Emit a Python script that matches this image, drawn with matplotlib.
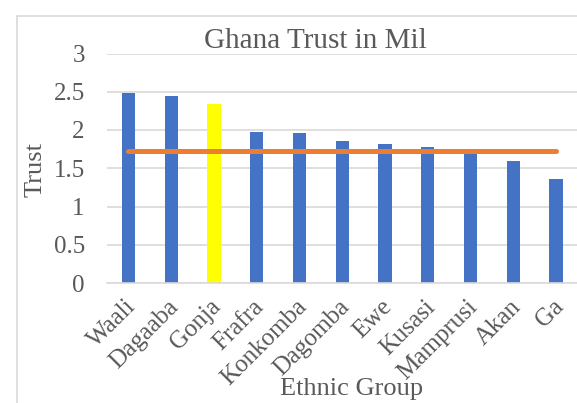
import matplotlib
matplotlib.use("Agg")
import matplotlib.pyplot as plt
from matplotlib.patches import Rectangle
from matplotlib.transforms import ScaledTranslation

groups = ["Waali", "Dagaaba", "Gonja", "Frafra", "Konkomba", "Dagomba",
          "Ewe", "Kusasi", "Mamprusi", "Akan", "Ga"]
trust = [2.48, 2.44, 2.34, 1.97, 1.96, 1.86, 1.82, 1.78, 1.71, 1.60, 1.36]
mean_trust = [1.73] * len(groups)
highlight = "Gonja"

BLUE, YELLOW, ORANGE, GRID, TXT = "#4472C4", "#FFFF00", "#ED7D31", "#D9D9D9", "#595959"
plt.rcParams["font.family"] = ["Liberation Serif", "DejaVu Serif"]

W, H = 577, 403
fig = plt.figure(figsize=(W / 100, H / 100), dpi=100)
ax = fig.add_axes([107 / W, 1 - 283 / H, 470.5 / W, 229.5 / H])

# chart border (right/bottom edges cut off in the original)
fig.patches.append(Rectangle((17 / W, -0.1), 1.2, 1 - 16 / H + 0.1, transform=fig.transFigure,
                             fill=False, ec=GRID, lw=1.2))

x = list(range(len(groups)))
colors = [YELLOW if g == highlight else BLUE for g in groups]
ax.bar(x, trust, width=0.31, color=colors, zorder=2)
ax.plot(x, mean_trust, color=ORANGE, lw=3.6, solid_capstyle="round", zorder=3)

ax.set_xlim(-0.5, len(groups) - 0.5)
ax.set_ylim(0, 3)
ax.set_yticks([0, 0.5, 1, 1.5, 2, 2.5, 3])
ax.set_yticklabels(["0", "0.5", "1", "1.5", "2", "2.5", "3"])
ax.yaxis.grid(True, color=GRID, lw=1.2, zorder=0)
ax.set_axisbelow(True)
for s in ["top", "right", "left"]:
    ax.spines[s].set_visible(False)
ax.spines["bottom"].set_color(GRID)
ax.spines["bottom"].set_linewidth(1.2)
ax.tick_params(axis="y", length=0, pad=16, labelsize=18, labelcolor=TXT)
ax.tick_params(axis="x", length=0, pad=9, labelsize=18, labelcolor=TXT)
ax.set_xticks(x)
ax.set_xticklabels(groups, rotation=45, ha="right", va="top", rotation_mode="anchor")
shift = ScaledTranslation(-4 / 100, 0, fig.dpi_scale_trans)
for lbl in ax.get_xticklabels():
    lbl.set_transform(lbl.get_transform() + shift)

fig.text(36 / W, 1 - 169 / H, "Trust", fontsize=19, color=TXT, rotation=90, ha="center", va="center")
fig.text(352 / W, 1 - 395 / H, "Ethnic Group", fontsize=19, color=TXT, ha="center", va="baseline")
fig.text(315 / W, 1 - 41 / H, "Ghana Trust in Mil", fontsize=21, color=TXT, ha="center", va="center")

fig.savefig("out.png", dpi=100)
